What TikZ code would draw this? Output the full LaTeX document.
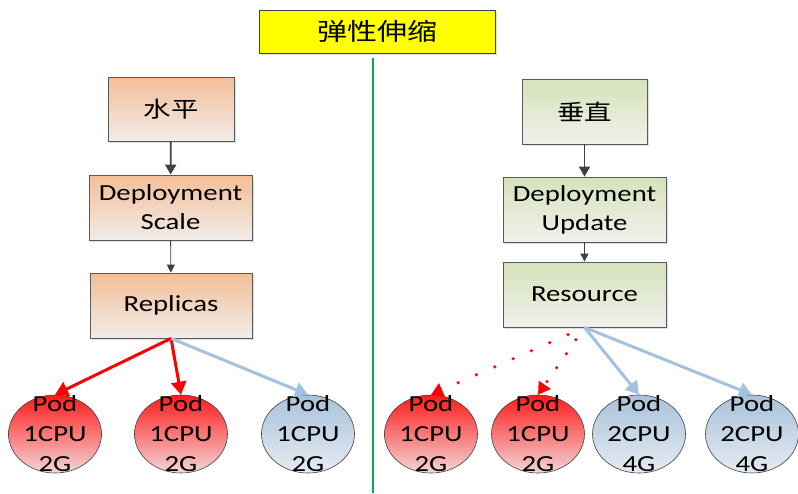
\documentclass[tikz,border=0pt]{standalone}
\usepackage{fontspec}
\setmainfont[FakeStretch=1.25]{Carlito}
\newfontfamily\cjk[FakeStretch=1.25]{Noto Sans CJK SC}
\usetikzlibrary{arrows.meta,shapes.geometric,shadows}

\definecolor{bord}{HTML}{5A5A5A}
\definecolor{jaune}{HTML}{FFFF00}
\definecolor{peche}{HTML}{F3BE96}
\definecolor{pechebas}{HTML}{F1ECE9}
\definecolor{olive}{HTML}{D5E2B9}
\definecolor{olivebas}{HTML}{F0F1EC}
\definecolor{rougehaut}{HTML}{FF1A1A}
\definecolor{rougebas}{HTML}{F3D6D6}
\definecolor{bleuhaut}{HTML}{A8C2DB}
\definecolor{bleubas}{HTML}{E6EBF1}
\definecolor{bleufleche}{HTML}{A3C2DF}
\definecolor{vertligne}{HTML}{00B050}
\definecolor{gris}{HTML}{404040}

\begin{document}
\begin{tikzpicture}[x=1pt,y=-1pt,
  boite/.style={draw=bord, line width=0.8pt, align=center,
    drop shadow={shadow xshift=2pt, shadow yshift=-2pt, opacity=0.25},
    font=\fontsize{23}{29}\selectfont},
  boiteH/.style={boite, top color=peche, bottom color=pechebas},
  boiteV/.style={boite, top color=olive, bottom color=olivebas},
  pod/.style={ellipse, draw=gris, line width=0.6pt, inner sep=0pt,
    minimum width=93pt, minimum height=78pt},
  podrouge/.style={pod, top color=rougehaut, bottom color=rougebas},
  podbleu/.style={pod, top color=bleuhaut, bottom color=bleubas},
  texte/.style={align=center, font=\fontsize{23}{30}\selectfont},
  fleche/.style={-{Triangle[length=10pt,width=11pt]}, gris, line width=1.8pt},
  petitefleche/.style={-{Triangle[length=8pt,width=8pt]}, gris, line width=0.9pt},
  grosse/.style={-{Triangle[length=13pt,width=15pt]}, line width=3pt}
]
\useasboundingbox (0,0) rectangle (798,493);

%le titre
\node[draw=gris, line width=0.8pt, fill=jaune, minimum width=236pt, minimum height=43pt,
  drop shadow={shadow xshift=2pt, shadow yshift=-2pt, opacity=0.25},
  font=\fontsize{24}{28}\cjk] (titre) at (377,31.5) {弹性伸缩};

%la ligne verte
\coordinate (haut) at (373,58);
\coordinate (bas) at (373,493);
\draw[vertligne, line width=2.5pt] (haut) -- (bas);

%cote horizontal
\node[boiteH, minimum width=126pt, minimum height=64pt, font=\fontsize{22}{26}\cjk] (horiz) at (171,109) {水平};
\node[boiteH, minimum width=163pt, minimum height=65pt] (scale) at (170.5,207.5) {Deployment\\Scale};
\node[boiteH, minimum width=162pt, minimum height=65pt] (replicas) at (171,305.5) {Replicas};

\draw[fleche] (horiz) -- (scale);
\draw[petitefleche] (scale) -- (replicas);

\node[podrouge] (p1) at (55,434) {};
\node[podrouge] (p2) at (181,434) {};
\node[podbleu] (p3) at (308,434) {};
\node[texte] (t1) at (p1) {Pod\\1CPU\\2G};
\node[texte] (t2) at (p2) {Pod\\1CPU\\2G};
\node[texte] (t3) at (p3) {Pod\\1CPU\\2G};

\draw[grosse, red] (replicas.south) -- (p1.north);
\draw[grosse, red] (replicas.south) -- (p2.north);
\draw[grosse, bleufleche] (replicas.south) -- (p3.north);

%cote vertical
\node[boiteV, minimum width=125pt, minimum height=65pt, font=\fontsize{22}{26}\cjk] (vert) at (584.5,111.5) {垂直};
\node[boiteV, minimum width=163pt, minimum height=65pt] (update) at (584.5,209.5) {Deployment\\Update};
\node[boiteV, minimum width=163pt, minimum height=65pt] (resource) at (584.5,294.5) {Resource};

\draw[fleche] (vert) -- (update);
\draw[petitefleche] (update) -- (resource);

\node[podrouge] (p5) at (431,434) {};
\node[podrouge] (p6) at (538,434) {};
\node[podbleu] (p7) at (639,434) {};
\node[podbleu] (p8) at (752,434) {};
\node[texte] (t5) at (p5) {Pod\\1CPU\\2G};
\node[texte] (t6) at (p6) {Pod\\1CPU\\2G};
\node[texte] (t7) at (p7) {Pod\\2CPU\\4G};
\node[texte] (t8) at (p8) {Pod\\2CPU\\4G};

\draw[-{Triangle[length=12pt,width=14pt]}, red, line width=3.5pt, line cap=round,
  dash pattern=on 0pt off 20pt, dash phase=2pt] (resource.south) -- (p5.north);% pointilles
\draw[-{Triangle[length=12pt,width=14pt]}, red, line width=3.5pt, line cap=round,
  dash pattern=on 0pt off 17pt, dash phase=2pt] (resource.south) -- (p6.north);
\draw[grosse, bleufleche] (resource.south) -- (p7.north);
\draw[grosse, bleufleche] (resource.south) -- (p8.north);
\end{tikzpicture}
\end{document}
